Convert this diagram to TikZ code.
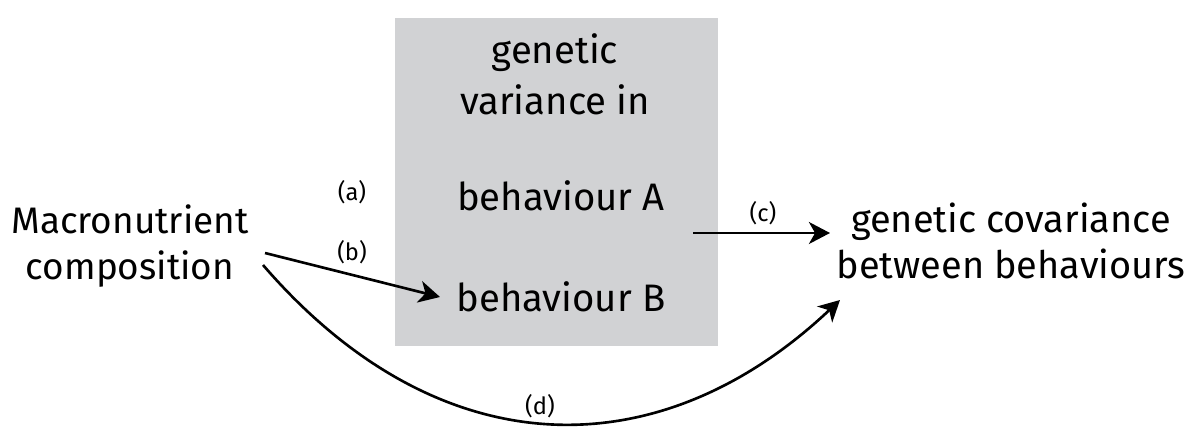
\documentclass[tikz,border=0pt]{standalone}
\usepackage{fontspec}
\setmainfont{Fira Sans}
\usetikzlibrary{arrows.meta}
\definecolor{boxgray}{RGB}{209,210,212}
\begin{document}
\begin{tikzpicture}[x=0.02cm,y=-0.02cm,
  bigtxt/.style={font=\fontsize{21}{26}\selectfont, inner sep=0pt},
  boxtxt/.style={font=\fontsize{21.8}{26}\selectfont, inner sep=0pt},
  smalltxt/.style={font=\fontsize{13.5}{16}\selectfont, inner sep=0pt},
  arr/.style={line width=1.5pt, -{Stealth[length=12pt,width=12.5pt,inset=3.5pt]}}]
\useasboundingbox (0,0) rectangle (1200,439);
\fill[boxgray] (395,18) rectangle (718,346);
\node[boxtxt] (gen) at (555,53) {genetic};
\node[boxtxt] (var) at (555,100) {variance in};
\node[boxtxt] (bA) at (561,196) {behaviour A};
\node[boxtxt] (bB) at (561,297) {behaviour B};
\node[bigtxt, align=center] (mac) at (130,246) {Macronutrient\\composition};
\node[bigtxt, align=center, font=\fontsize{21.6}{26}\selectfont] (cov) at (1011,241) {genetic covariance\\between behaviours};
\node[smalltxt] (la) at (352,192) {(a)};
\node[smalltxt] (lb) at (352,252) {(b)};
\node[smalltxt] (lc) at (763,213) {(c)};
\node[smalltxt] (ld) at (540,406) {(d)};
\coordinate (bs) at (265,253);
\coordinate (be) at (440,297);
\coordinate (cs) at (693,233);
\coordinate (ce) at (830,233);
\coordinate (ds) at (263,265);
\coordinate (de) at (840,300);
\draw[arr] (bs) -- (be);
\draw[arr] (cs) -- (ce);
\draw[arr] (ds) .. controls (440,470) and (660,470) .. (de);
\end{tikzpicture}
\end{document}
